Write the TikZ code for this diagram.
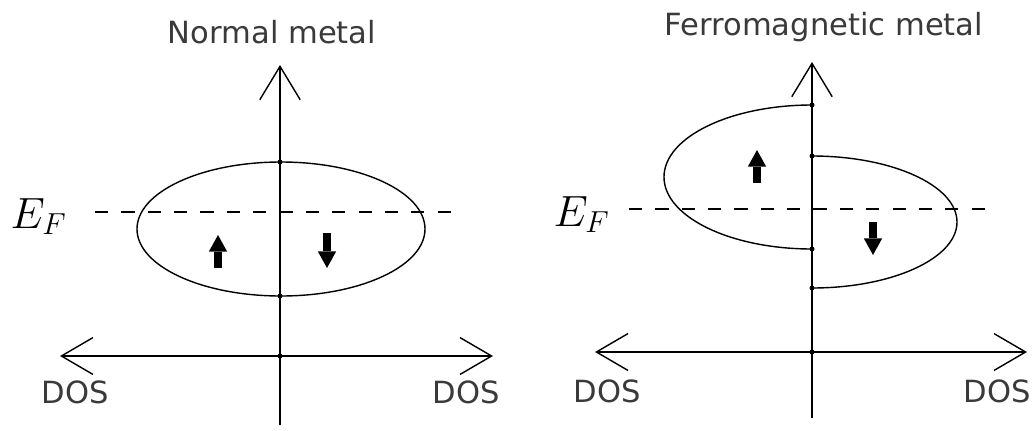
\documentclass[tikz,border=0pt]{standalone}
\usepackage{fontspec}
\setsansfont{DejaVu Sans}
\usetikzlibrary{arrows.meta}
\definecolor{cgrey}{HTML}{3A3A3A}
\tikzset{
  every picture/.style={line width=0.8pt},
  title/.style={font=\sffamily\fontsize{17.4}{20}\selectfont, text=cgrey, inner sep=0pt},
  doslabel/.style={title},
  eflabel/.style={font=\fontsize{25}{28}\selectfont, inner sep=0pt},
  vaxis/.style={-{Straight Barb[length=19pt, width=23pt]}},
  haxis/.style={{Straight Barb[length=18pt, width=21pt]}-{Straight Barb[length=18pt, width=21pt]}},
  fermi/.style={dash pattern=on 7.5pt off 7.5pt},
  spin/.style={line width=4.2pt, -{Triangle[length=9.5pt, width=10.5pt, line width=0pt]}},
  tick/.style={fill=black},
}

\begin{document}
\begin{tikzpicture}[x=0.02cm, y=0.02cm]
  \useasboundingbox (0,0) rectangle (1035,-430);
  % normal metal
  \coordinate (ltop) at (280,-65);
  \coordinate (lbot) at (280,-425);
  \coordinate (lleft) at (60,-356);
  \coordinate (lright) at (493,-356);
  \coordinate (lefa) at (95,-212);
  \coordinate (lefb) at (462,-212);
  \node[title, anchor=base] (tnormal) at (272,-43) {Normal metal};
  \draw[vaxis] (lbot) -- (ltop);
  \draw[haxis] (lleft) -- (lright);
  \draw (281,-229) ellipse [x radius=144, y radius=67];
  \draw[fermi] (lefa) -- (lefb);
  \node[eflabel, anchor=base west] (lef) at (10,-228) {$E_F$};
  \draw[spin] (218,-268) -- (218,-235);
  \draw[spin] (327,-233) -- (327,-268);
  \foreach \y in {-162,-296,-356} \fill[tick] (280,\y) circle (2.5);
  \node[doslabel, anchor=base] (ldosa) at (75,-403) {DOS};
  \node[doslabel, anchor=base] (ldosb) at (466,-403) {DOS};
  % ferromagnetic metal
  \coordinate (rtop) at (812,-62);
  \coordinate (rbot) at (812,-418);
  \coordinate (rleft) at (595,-352);
  \coordinate (rright) at (1027,-352);
  \coordinate (refa) at (629,-209);
  \coordinate (refb) at (995,-209);
  \node[title, anchor=base] (tferro) at (824,-35) {Ferromagnetic metal};
  \draw[vaxis] (rbot) -- (rtop);
  \draw[haxis] (rleft) -- (rright);
  \draw (812,-105) arc [start angle=90, end angle=270, x radius=148, y radius=72];
  \draw (812,-156) arc [start angle=90, end angle=-90, x radius=145, y radius=66];
  \draw[fermi] (refa) -- (refb);
  \node[eflabel, anchor=base west] (ref) at (553,-226) {$E_F$};
  \draw[spin] (757,-183) -- (757,-150);
  \draw[spin] (873,-222) -- (873,-255);
  \foreach \y in {-105,-156,-249,-288,-352} \fill[tick] (812,\y) circle (2.5);
  \node[doslabel, anchor=base] (rdosa) at (607,-402) {DOS};
  \node[doslabel, anchor=base] (rdosb) at (997,-402) {DOS};
\end{tikzpicture}
\end{document}
